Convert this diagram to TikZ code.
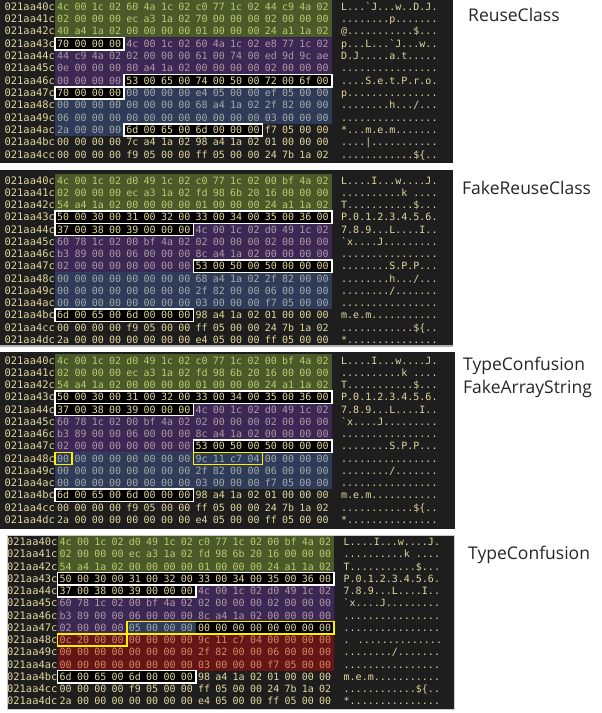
\documentclass[tikz,border=0pt]{standalone}
\usepackage{fontspec}
\newfontfamily\hexfont{DejaVu Sans Mono}
\newfontfamily\labelfont{Open Sans}
\usetikzlibrary{positioning}
\definecolor{panelbg}{RGB}{30,30,30}
\definecolor{hextext}{RGB}{228,214,156}
\definecolor{bandgreen}{RGB}{140,180,55}
\definecolor{bandpurple}{RGB}{105,55,168}
\definecolor{bandblue}{RGB}{70,105,180}
\definecolor{bandred}{RGB}{205,12,12}
\definecolor{markyellow}{RGB}{255,240,0}
\tikzset{
  panel/.style={fill=panelbg},
  addr/.style={anchor=base east, inner sep=0pt, text=hextext, font=\hexfont\fontsize{10.4}{12}\selectfont, yshift=-3.6pt},
  byte/.style={anchor=base west, inner sep=0pt, text=hextext, font=\hexfont\fontsize{10}{12}\selectfont, yshift=-3.6pt},
  ascii/.style={byte},
  band/.style={fill=#1, fill opacity=.4},
  boxfill/.style={fill=black},
  wbox/.style={draw=white, line width=1.7pt},
  ybox/.style={draw=markyellow, line width=1.7pt},
  panellabel/.style={anchor=west, inner sep=0pt, align=left, text=black!85, font=\labelfont\fontsize{17.5}{23}\selectfont}
}
\newcommand\cellspan[4]{({55+17.3*#3},#1-.5) rectangle ({55+17.3*(#4+1)},#2+.5)}
\newcommand\hexrow[4]{%
  \node[addr] (addr#1) at (55,#1) {#2};
  \foreach \b [count=\c from 0] in {#3}
    \node[byte] (b#1-\c) at ({57+17.3*\c},#1) {\b};
  \node[ascii] (asc#1) at (341,#1) {#4};
}
\newcommand\toprows{%
  \hexrow{0}{021aa40c}{4c,00,1c,02,d0,49,1c,02,c0,77,1c,02,00,bf,4a,02}{L....I...w....J.}
  \hexrow{1}{021aa41c}{02,00,00,00,ec,a3,1a,02,fd,98,6b,20,16,00,00,00}{..........k ....}
  \hexrow{2}{021aa42c}{54,a4,1a,02,00,00,00,00,01,00,00,00,24,a1,1a,02}{T...........\$...}
  \hexrow{3}{021aa43c}{50,00,30,00,31,00,32,00,33,00,34,00,35,00,36,00}{P.0.1.2.3.4.5.6.}
  \hexrow{4}{021aa44c}{37,00,38,00,39,00,00,00,4c,00,1c,02,d0,49,1c,02}{7.8.9...L....I..}
  \hexrow{5}{021aa45c}{60,78,1c,02,00,bf,4a,02,02,00,00,00,02,00,00,00}{\textasciigrave x....J.........}
  \hexrow{6}{021aa46c}{b3,89,00,00,06,00,00,00,8c,a4,1a,02,00,00,00,00}{................}
}
\newcommand\lowrows{%
  \hexrow{9}{021aa49c}{00,00,00,00,00,00,00,00,2f,82,00,00,06,00,00,00}{......../.......}
  \hexrow{10}{021aa4ac}{00,00,00,00,00,00,00,00,03,00,00,00,f7,05,00,00}{................}
  \hexrow{11}{021aa4bc}{6d,00,65,00,6d,00,00,00,98,a4,1a,02,01,00,00,00}{m.e.m...........}
  \hexrow{12}{021aa4cc}{00,00,00,00,f9,05,00,00,ff,05,00,00,24,7b,1a,02}{............\$\{..}
  \hexrow{13}{021aa4dc}{2a,00,00,00,00,00,00,00,e4,05,00,00,ff,05,00,00}{*...............}
}

\begin{document}
\begin{tikzpicture}[x=1pt, y=-1pt]
\useasboundingbox (0,0) rectangle (602,713);
\fill[panel] (0,0) rectangle (453,163);
\fill[panel] (0,170) rectangle (453,346);
\draw[gray!60, line width=1.5pt] (0,346) -- (453,346);
\fill[panel] (0,352) rectangle (455,529);
\fill[panel, draw=gray!40, line width=.8pt] (7,535) rectangle (454,709);

\begin{scope}[name prefix=p1-, shift={(0,6.5)}, y=-12.35pt]
\fill[boxfill] \cellspan{3}{3}{0}{3} \cellspan{6}{6}{4}{15} \cellspan{7}{7}{0}{3} \cellspan{10}{10}{4}{11};
\hexrow{0}{021aa40c}{4c,00,1c,02,60,4a,1c,02,c0,77,1c,02,44,c9,4a,02}{L...\textasciigrave J...w..D.J.}
\hexrow{1}{021aa41c}{02,00,00,00,ec,a3,1a,02,70,00,00,00,02,00,00,00}{........p.......}
\hexrow{2}{021aa42c}{40,a4,1a,02,00,00,00,00,01,00,00,00,24,a1,1a,02}{@...........\$...}
\hexrow{3}{021aa43c}{70,00,00,00,4c,00,1c,02,60,4a,1c,02,e8,77,1c,02}{p...L...\textasciigrave J...w..}
\hexrow{4}{021aa44c}{44,c9,4a,02,02,00,00,00,61,00,74,00,ed,9d,9c,ae}{D.J.....a.t.....}
\hexrow{5}{021aa45c}{0e,00,00,00,80,a4,1a,02,00,00,00,00,02,00,00,00}{................}
\hexrow{6}{021aa46c}{00,00,00,00,53,00,65,00,74,00,50,00,72,00,6f,00}{....S.e.t.P.r.o.}
\hexrow{7}{021aa47c}{70,00,00,00,00,00,00,00,e4,05,00,00,ef,05,00,00}{p...............}
\hexrow{8}{021aa48c}{00,00,00,00,00,00,00,00,68,a4,1a,02,2f,82,00,00}{........h.../...}
\hexrow{9}{021aa49c}{06,00,00,00,00,00,00,00,00,00,00,00,03,00,00,00}{................}
\hexrow{10}{021aa4ac}{2a,00,00,00,6d,00,65,00,6d,00,00,00,f7,05,00,00}{*...m.e.m.......}
\hexrow{11}{021aa4bc}{00,00,00,00,7c,a4,1a,02,98,a4,1a,02,01,00,00,00}{....|...........}
\hexrow{12}{021aa4cc}{00,00,00,00,f9,05,00,00,ff,05,00,00,24,7b,1a,02}{............\$\{..}
\fill[band=bandgreen] \cellspan{0}{2}{0}{15};
\fill[band=bandpurple] \cellspan{3}{3}{4}{15} \cellspan{4}{5}{0}{15} \cellspan{6}{6}{0}{3};
\fill[band=bandblue] \cellspan{7}{7}{4}{15} \cellspan{8}{9}{0}{15} \cellspan{10}{10}{0}{3};
\draw[wbox] \cellspan{3}{3}{0}{3} \cellspan{6}{6}{4}{15} \cellspan{7}{7}{0}{3} \cellspan{10}{10}{4}{11};
\end{scope}

\begin{scope}[name prefix=p2-, shift={(0,180.5)}, y=-12.25pt]
\fill[boxfill] \cellspan{3}{3}{0}{15} \cellspan{4}{4}{0}{7} \cellspan{7}{7}{8}{15} \cellspan{11}{11}{0}{7};
\toprows
\hexrow{7}{021aa47c}{02,00,00,00,00,00,00,00,53,00,50,00,50,00,00,00}{........S.P.P...}
\hexrow{8}{021aa48c}{00,00,00,00,00,00,00,00,68,a4,1a,02,2f,82,00,00}{........h.../...}
\lowrows
\fill[band=bandgreen] \cellspan{0}{2}{0}{15};
\fill[band=bandpurple] \cellspan{4}{4}{8}{15} \cellspan{5}{6}{0}{15} \cellspan{7}{7}{0}{7};
\fill[band=bandblue] \cellspan{8}{10}{0}{15};
\draw[wbox] \cellspan{3}{3}{0}{15} \cellspan{4}{4}{0}{7} \cellspan{7}{7}{8}{15} \cellspan{11}{11}{0}{7};
\end{scope}

\begin{scope}[name prefix=p3-, shift={(0,360.5)}, y=-12.25pt]
\fill[boxfill] \cellspan{3}{3}{0}{15} \cellspan{4}{4}{0}{7} \cellspan{7}{7}{8}{15} \cellspan{11}{11}{0}{7};
\toprows
\hexrow{7}{021aa47c}{02,00,00,00,00,00,00,00,53,00,50,00,50,00,00,00}{........S.P.P...}
\hexrow{8}{021aa48c}{00,00,00,00,00,00,00,00,9c,11,c7,04,00,00,00,00}{................}
\lowrows
\fill[band=bandgreen] \cellspan{0}{2}{0}{15};
\fill[band=bandpurple] \cellspan{4}{4}{8}{15} \cellspan{5}{6}{0}{15} \cellspan{7}{7}{0}{7};
\fill[band=bandblue] \cellspan{8}{10}{0}{15};
\draw[wbox] \cellspan{3}{3}{0}{15} \cellspan{4}{4}{0}{7} \cellspan{7}{7}{8}{15} \cellspan{11}{11}{0}{7};
\draw[ybox] \cellspan{8}{8}{0}{0} \cellspan{8}{8}{8}{11};
\end{scope}

\begin{scope}[name prefix=p4-, shift={(2.5,542)}, y=-12.25pt]
\fill[boxfill] \cellspan{3}{3}{0}{15} \cellspan{4}{4}{0}{7} \cellspan{7}{7}{8}{15} \cellspan{11}{11}{0}{7};
\toprows
\hexrow{7}{021aa47c}{02,00,00,00,05,00,00,00,00,00,00,00,00,00,00,00}{................}
\hexrow{8}{021aa48c}{0c,20,00,00,00,00,00,00,9c,11,c7,04,00,00,00,00}{. ..............}
\lowrows
\fill[band=bandgreen] \cellspan{0}{2}{0}{15};
\fill[band=bandpurple] \cellspan{4}{4}{8}{15} \cellspan{5}{6}{0}{15} \cellspan{7}{7}{0}{3};
\fill[band=bandblue] \cellspan{7}{7}{4}{7};
\fill[band=bandred] \cellspan{8}{10}{0}{15};
\draw[wbox] \cellspan{3}{3}{0}{15} \cellspan{4}{4}{0}{7} \cellspan{11}{11}{0}{7};
\draw[ybox] \cellspan{7}{7}{4}{15} \cellspan{8}{8}{0}{3};
\end{scope}

\node[panellabel] (lblReuse) at (468,15) {ReuseClass};
\node[panellabel] (lblFakeReuse) at (462,188) {FakeReuseClass};
\node[panellabel] (lblFakeArray) at (463,377.5) {TypeConfusion\\FakeArrayString};
\node[panellabel] (lblConfusion) at (468,555) {TypeConfusion};
\end{tikzpicture}
\end{document}
